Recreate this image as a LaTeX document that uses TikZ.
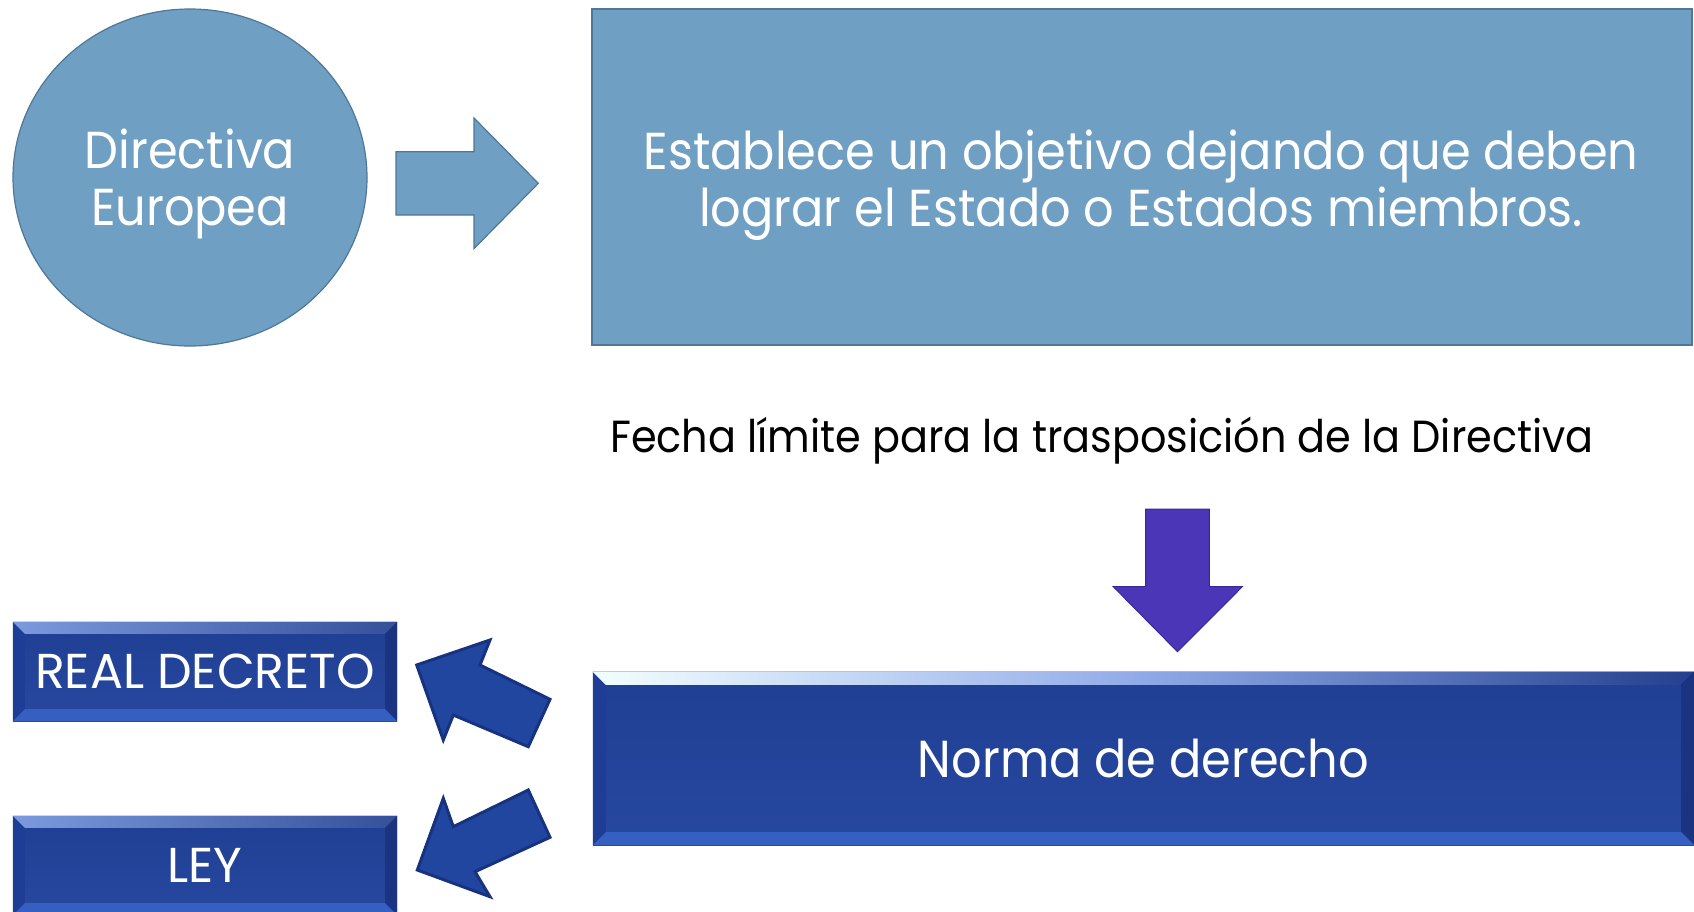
\documentclass[tikz,border=0pt]{standalone}
\usepackage{fontspec}
\setmainfont{Poppins}[FakeStretch=0.92]
\newfontfamily\boxfont{Poppins}
\usetikzlibrary{shapes.geometric}
\definecolor{lb}{HTML}{6F9FC3}
\definecolor{lbdark}{HTML}{4F7797}
\definecolor{purp}{HTML}{4B36B8}
\definecolor{purpdark}{HTML}{3A2898}
\definecolor{navy}{HTML}{22429A}
\definecolor{navytop}{HTML}{1F3F94}
\definecolor{navybot}{HTML}{27489F}
\definecolor{bevleft}{HTML}{1E3E96}
\definecolor{bevright}{HTML}{1A3482}
\definecolor{bevbot}{HTML}{3560C2}
\definecolor{bevtopL}{HTML}{7C9ADD}
\definecolor{bevtopR}{HTML}{34509A}
\definecolor{nbevL}{HTML}{F2FFFF}
\definecolor{nbevM}{HTML}{90AAE8}
\definecolor{nbevR}{HTML}{233F8E}
\definecolor{barrow}{HTML}{2146A0}
\definecolor{barrowline}{HTML}{17337F}
\tikzset{
  bigtext/.style={font=\fontsize{52}{57}\selectfont, text=white, align=center},
  lightshape/.style={fill=lb, draw=lbdark, line width=1.2pt},
  bevelbox/.style 2 args={rectangle, inner sep=0pt, top color=navytop, bottom color=navybot, draw=none,
    minimum width=#1, minimum height=#2},
  boxtext/.style={font=\boxfont\fontsize{49}{54}\selectfont, text=white},
  bluearrow/.style={fill=barrow, draw=barrowline, line width=3pt, line join=miter},
}
% bevels drawn around a named node: #1 node, #2 bevel width, #3 top-left colour, #4 top-right colour
\newcommand{\bevels}[4]{%
  \fill[bevleft] (#1.north west) -- ([shift={(#2,-#2)}]#1.north west) -- ([shift={(#2,#2)}]#1.south west) -- (#1.south west) -- cycle;
  \fill[bevright] (#1.north east) -- ([shift={(-#2,-#2)}]#1.north east) -- ([shift={(-#2,#2)}]#1.south east) -- (#1.south east) -- cycle;
  \fill[bevbot] (#1.south west) -- ([shift={(#2,#2)}]#1.south west) -- ([shift={(-#2,#2)}]#1.south east) -- (#1.south east) -- cycle;
  \fill[left color=#3, right color=#4] (#1.north west) -- (#1.north east) -- ([shift={(-#2,-#2)}]#1.north east) -- ([shift={(#2,-#2)}]#1.north west) -- cycle;
}
\begin{document}
\begin{tikzpicture}[x=1pt,y=-1pt]
\useasboundingbox[fill=white] (0,0) rectangle (1694,911);

% top row
\node[ellipse, lightshape, minimum width=354pt, minimum height=337pt, inner sep=0pt] (dir) at (190,177.5) {};
\node[bigtext, anchor=center] (dirtext) at (190,184) {Directiva\\Europea};

\node[rectangle, lightshape, minimum width=1100pt, minimum height=336pt] (obj) at (1142,177) {};
\node[bigtext] (objtext) at (1141,185.5) {Establece un objetivo dejando que deben\\lograr el Estado o Estados miembros.};

\filldraw[lightshape] (396,151.7) -- (474,151.7) -- (474,118) -- (538.3,183.3) -- (474,248.6) -- (474,215) -- (396,215) -- cycle;

% middle
\node[anchor=base, font=\fontsize{45}{50}\selectfont, text=black] (fecha) at (1102,452) {Fecha límite para la trasposición de la Directiva};

\filldraw[fill=purp, draw=purpdark, line width=1pt] (1145.7,509) -- (1209.3,509) -- (1209.3,586.7) -- (1242.3,586.7) -- (1177.5,651.7) -- (1113.3,586.7) -- (1145.7,586.7) -- cycle;

% bottom
\node[bevelbox={1101pt}{173pt}] (norma) at (1143.5,758.5) {};
\bevels{norma}{13pt}{nbevL}{nbevR}
\fill[left color=nbevL, right color=nbevR, middle color=nbevM] (norma.north west) -- (norma.north east) -- ([shift={(-13pt,-13pt)}]norma.north east) -- ([shift={(13pt,-13pt)}]norma.north west) -- cycle;
\node[font=\fontsize{52}{57}\selectfont, text=white] (normatext) at (norma.center) {Norma de derecho};

\node[bevelbox={384pt}{99pt}] (rd) at (205,671.5) {};
\bevels{rd}{12pt}{bevtopL}{bevtopR}
\node[boxtext] (rdtext) at (rd.center) {REAL DECRETO};

\node[bevelbox={384pt}{99pt}] (ley) at (205,865.5) {};
\bevels{ley}{12pt}{bevtopL}{bevtopR}
\node[boxtext] (leytext) at (ley.center) {LEY};

\filldraw[bluearrow] (416.7,665) -- (490,640) -- (480,665) -- (550,699.3) -- (528.3,746.7) -- (453.3,715) -- (443.3,740) -- cycle;
\filldraw[bluearrow] (417.3,870) -- (443.3,798.3) -- (453.3,826.7) -- (528.3,790) -- (550,837.3) -- (475,871.7) -- (490,896.7) -- cycle;
\end{tikzpicture}
\end{document}
